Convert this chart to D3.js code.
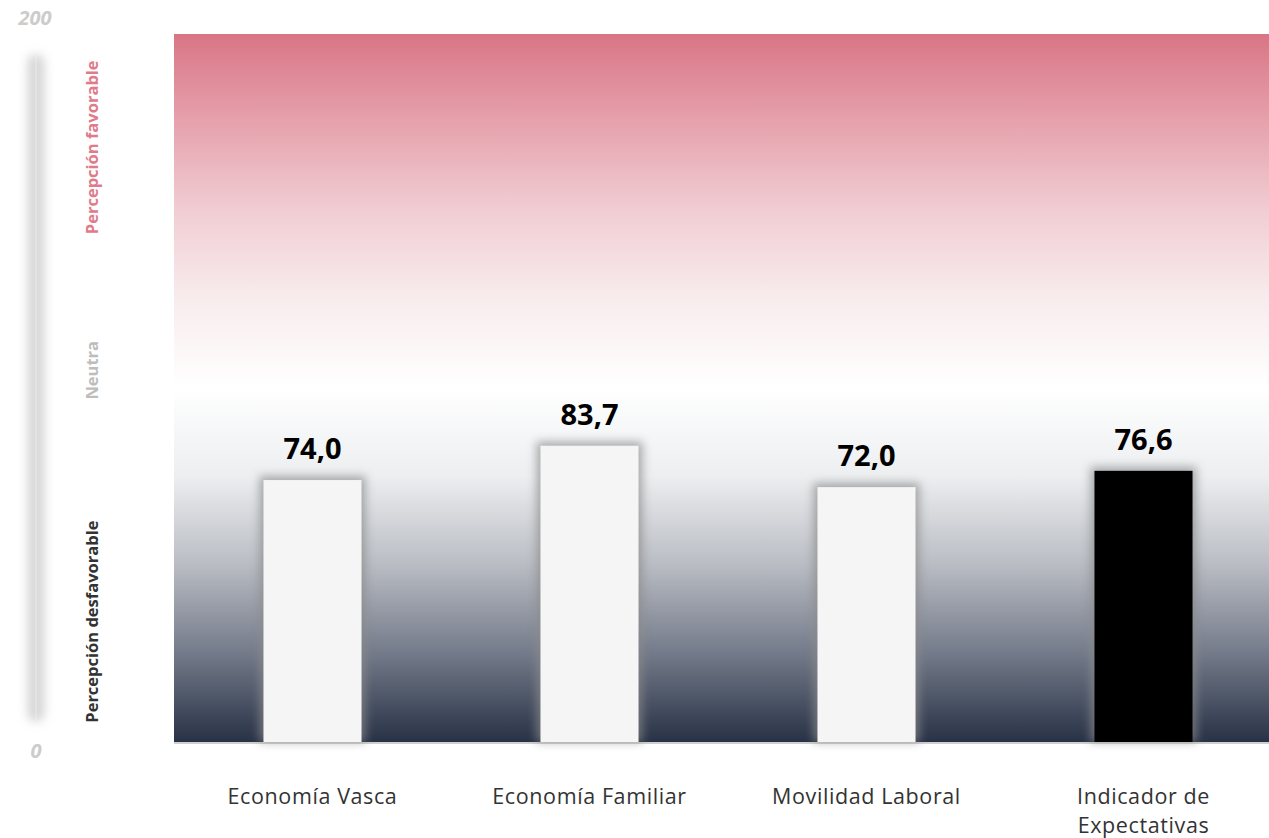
<!DOCTYPE html>
<html><head><meta charset="utf-8">
<script src="https://cdn.jsdelivr.net/npm/d3@7"></script>
<style>body{margin:0;background:#fff;}svg{display:block;font-family:"Open Sans",sans-serif;}</style>
</head><body>
<script>
const categories = ["Economía Vasca", "Economía Familiar", "Movilidad Laboral", "Indicador de Expectativas"];
const values = [74.0, 83.7, 72.0, 76.6];
const barColors = ["#f5f5f5", "#f5f5f5", "#f5f5f5", "#000000"];
const yTickLabels = [0, 200];
const zoneLabels = ["Percepción desfavorable", "Neutra", "Percepción favorable"];
const zoneCenters = [34, 105, 168];
const zoneColors = ["#333333", "#bdbdbd", "#e07b8c"];
const gradStops = [[200, "#d97585"], [175, "#e6a2ad"], [150, "#f1cdd3"], [125, "#f8eced"], [100, "#ffffff"], [75, "#eceef0"], [50, "#b9bcc3"], [25, "#737a89"], [0, "#283246"]];

const W = 1269, H = 838;
const svg = d3.select("body").append("svg").attr("width", W).attr("height", H);
const defs = svg.append("defs");

const y = d3.scaleLinear().domain([0, 200]).range([742, 34]);
const x = d3.scaleBand().domain(categories).range([174, 1282]).paddingInner(0.646).paddingOuter(0.323);

const grad = defs.append("linearGradient").attr("id", "bg").attr("x1", 0).attr("x2", 0).attr("y1", 0).attr("y2", 1);
gradStops.forEach(([v, c]) => grad.append("stop").attr("offset", (200 - v) / 200).attr("stop-color", c));

const blur = defs.append("filter").attr("id", "glow").attr("x", "-30%").attr("y", "-30%").attr("width", "160%").attr("height", "160%");
blur.append("feGaussianBlur").attr("stdDeviation", 5);
const blur2 = defs.append("filter").attr("id", "axglow").attr("x", "-200%").attr("y", "-10%").attr("width", "500%").attr("height", "120%");
blur2.append("feGaussianBlur").attr("stdDeviation", 5);

// background
svg.append("rect").attr("x", x.range()[0]).attr("y", y(200)).attr("width", x.range()[1] - x.range()[0]).attr("height", y(0) - y(200)).attr("fill", "url(#bg)");

// baseline
svg.append("line").attr("x1", 174).attr("x2", W).attr("y1", y(0) + 1).attr("y2", y(0) + 1).attr("stroke", "#d0d0d0").attr("stroke-width", 2);

// bar glows
svg.selectAll("rect.glow").data(values).enter().append("rect").attr("class", "glow")
  .attr("x", (d, i) => x(categories[i]) - 4).attr("width", x.bandwidth() + 8)
  .attr("y", d => y(d) - 4).attr("height", d => y(0) - y(d) + 4)
  .attr("fill", "#8a8a8a").attr("opacity", 0.7).attr("filter", "url(#glow)");

svg.selectAll("rect.bar").data(values).enter().append("rect").attr("class", "bar")
  .attr("x", (d, i) => x(categories[i])).attr("width", x.bandwidth())
  .attr("y", d => y(d)).attr("height", d => y(0) - y(d))
  .attr("fill", (d, i) => barColors[i]);

svg.selectAll("text.val").data(values).enter().append("text").attr("class", "val")
  .attr("x", (d, i) => x(categories[i]) + x.bandwidth() / 2).attr("y", d => y(d) - 21)
  .attr("text-anchor", "middle").attr("font-size", 29).attr("font-weight", 700).attr("fill", "#000")
  .text(d => d.toFixed(1).replace(".", ","));

// category labels
const catG = svg.selectAll("text.cat").data(categories).enter().append("text").attr("class", "cat")
  .attr("x", d => x(d) + x.bandwidth() / 2).attr("y", 804)
  .attr("text-anchor", "middle").attr("font-size", 21.5).attr("letter-spacing", 0.6).attr("fill", "#333");
catG.each(function(d) {
  const t = d3.select(this);
  const lines = d === "Indicador de Expectativas" ? ["Indicador de", "Expectativas"] : [d];
  lines.forEach((l, i) => t.append("tspan").attr("x", x(d) + x.bandwidth() / 2).attr("dy", i === 0 ? 0 : 29).text(l));
});

// left axis bar
svg.append("rect").attr("x", 27).attr("y", 54).attr("width", 18).attr("height", 668).attr("rx", 9)
  .attr("fill", "#c4c4c4").attr("opacity", 0.65).attr("filter", "url(#axglow)");
svg.append("line").attr("x1", 36).attr("x2", 36).attr("y1", 56).attr("y2", 722).attr("stroke", "#ececec").attr("stroke-width", 1);

svg.selectAll("text.ytick").data(yTickLabels).enter().append("text").attr("class", "ytick")
  .attr("x", d => d === 200 ? 35 : 36).attr("y", d => d === 200 ? 25 : 758).attr("text-anchor", "middle")
  .attr("font-size", 20).attr("font-weight", 700).attr("font-style", "italic").attr("fill", "#cccccc")
  .text(d => d);

svg.selectAll("text.zone").data(zoneLabels).enter().append("text").attr("class", "zone")
  .attr("transform", (d, i) => `translate(98,${y(zoneCenters[i])}) rotate(-90)`)
  .attr("text-anchor", "middle").attr("font-size", 16.5).attr("font-weight", 700)
  .attr("fill", (d, i) => zoneColors[i]).text(d => d);
</script>
</body></html>
